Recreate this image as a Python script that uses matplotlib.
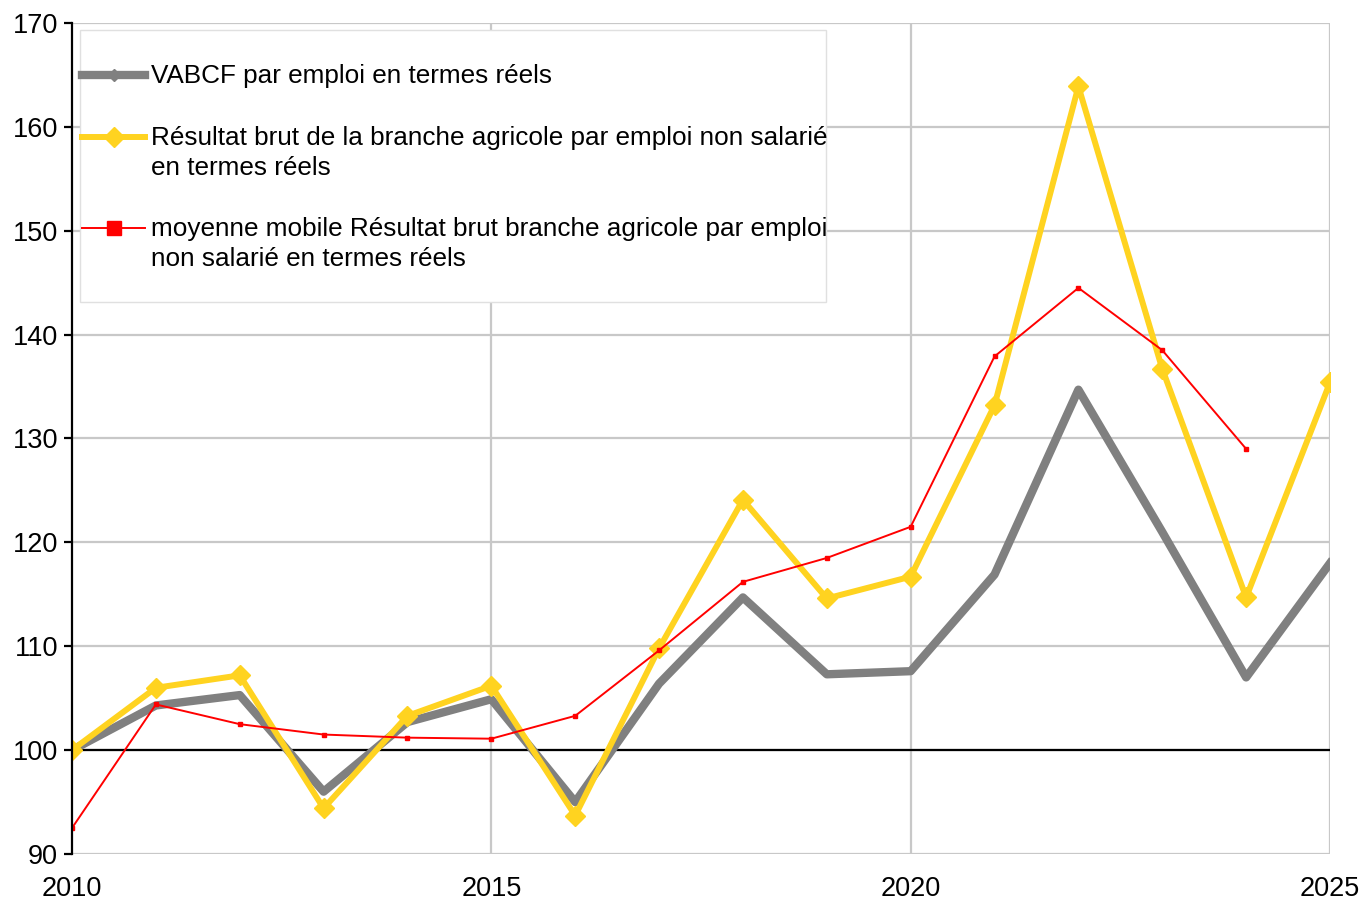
import matplotlib
matplotlib.use("Agg")
import matplotlib.pyplot as plt
from matplotlib.lines import Line2D
from matplotlib.patches import Rectangle

plt.rcParams['font.family'] = ['Liberation Sans', 'DejaVu Sans']

# Data
years = list(range(2010, 2026))
vabcf = [100.0, 104.3, 105.3, 96.0, 102.7, 104.9, 95.0, 106.4, 114.7, 107.3,
         107.6, 116.9, 134.7, 121.0, 107.0, 118.0]
resultat = [100.0, 106.0, 107.2, 94.4, 103.3, 106.2, 93.7, 109.8, 124.1, 114.6,
            116.7, 133.2, 163.9, 136.7, 114.7, 135.4]
years_mm = list(range(2010, 2025))
moyenne_mobile = [92.5, 104.4, 102.5, 101.5, 101.2, 101.1, 103.3, 109.6, 116.2, 118.5,
                  121.5, 137.9, 144.5, 138.5, 129.0]

labels = [
    "VABCF par emploi en termes réels",
    "Résultat brut de la branche agricole par emploi non salarié\nen termes réels",
    "moyenne mobile Résultat brut branche agricole par emploi\nnon salarié en termes réels",
]
x_ticks = [2010, 2015, 2020, 2025]
y_ticks = list(range(90, 171, 10))

gray = "#808080"
yellow = "#FFD320"
red = "#FF0000"
grid_col = "#C8C8C8"

W, H = 1363, 901
fig = plt.figure(figsize=(W / 100, H / 100), dpi=100)
ax = fig.add_axes([72 / W, 1 - 854 / H, (1330 - 72) / W, (854 - 23) / H])

def fx(px):
    return px / W

def fy(py):
    return 1 - py / H

# grid
for yv in y_ticks:
    ax.axhline(yv, color=grid_col, lw=1.6, zorder=1)
for xv in x_ticks[1:]:
    ax.axvline(xv, color=grid_col, lw=1.6, zorder=1)
ax.axhline(100, color="black", lw=1.6, zorder=2)

ax.plot(years, vabcf, color=gray, lw=6, zorder=4)
ax.plot(years, resultat, color=yellow, lw=4.3, marker="D", ms=10, zorder=5)
ax.plot(years_mm, moyenne_mobile, color=red, lw=1.4, marker="s", ms=3.5, zorder=6)

ax.set_xlim(2010, 2025)
ax.set_ylim(90, 170)
ax.set_xticks(x_ticks)
ax.set_yticks(y_ticks)
ax.tick_params(axis="x", length=0, pad=16, labelsize=19.5)
ax.tick_params(axis="y", length=6, width=1.6, pad=4, labelsize=19.5)
for s in ["top", "right", "bottom"]:
    ax.spines[s].set_visible(False)
ax.spines["left"].set_linewidth(1.6)
ax.spines["left"].set_zorder(7)

# legend box, drawn by hand so the keys sit on the first line of each label
box = Rectangle((fx(80), fy(302)), fx(826) - fx(80), fy(30) - fy(302),
                transform=fig.transFigure, facecolor="white", edgecolor="#E0E0E0",
                lw=1, zorder=8)
fig.add_artist(box)

styles = [
    dict(color=gray, lw=6, marker="D", ms=6),
    dict(color=yellow, lw=4.3, marker="D", ms=10),
    dict(color=red, lw=1.4, marker="s", ms=10),
]
rows = [75, 137, 228]
for lab, st, ry in zip(labels, styles, rows):
    key = Line2D([fx(82), fx(113.5), fx(145)], [fy(ry)] * 3, transform=fig.transFigure,
                 markevery=[1], zorder=9, **st)
    fig.add_artist(key)
    fig.text(fx(151), fy(ry - 11), lab, fontsize=18.8, va="top", ha="left",
             linespacing=1.3, zorder=9)

fig.savefig("out.png", dpi=100)
